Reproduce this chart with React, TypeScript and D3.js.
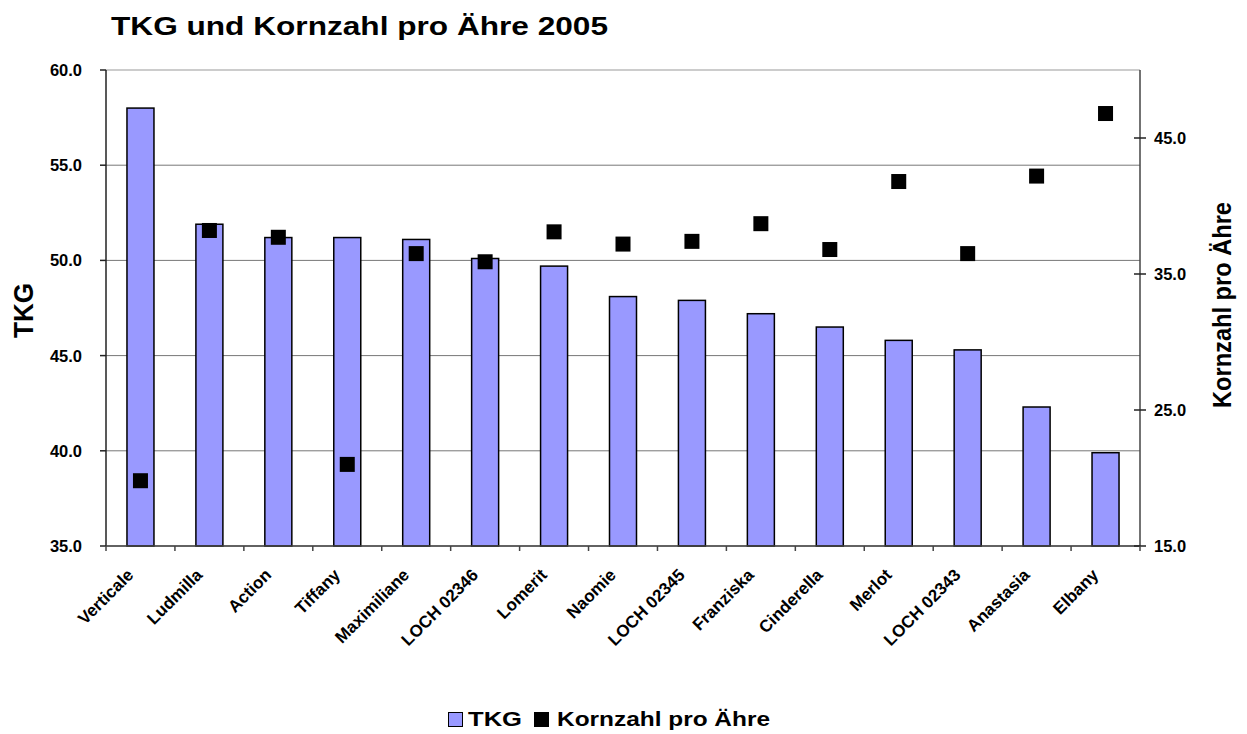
import React from "react";
import * as d3 from "d3";

const categories = ["Verticale","Ludmilla","Action","Tiffany","Maximiliane","LOCH 02346","Lomerit","Naomie","LOCH 02345","Franziska","Cinderella","Merlot","LOCH 02343","Anastasia","Elbany"];
const tkg = [58.0,51.9,51.2,51.2,51.1,50.1,49.7,48.1,47.9,47.2,46.5,45.8,45.3,42.3,39.9];
const kornzahl = [19.8,38.2,37.7,21.0,36.5,35.9,38.1,37.2,37.4,38.7,36.8,41.8,36.5,42.2,46.8];
const leftTicks = [35,40,45,50,55,60];
const rightTicks = [15,25,35,45];

const W = 1247, H = 734;
const L = 106, R = 1140, T = 70, B = 546;
const FONT = "'Liberation Sans', Arial, sans-serif";

export default function App() {
  const xc = d3.scaleBand<string>().domain(categories).range([L, R]);
  const yL = d3.scaleLinear().domain([35, 60]).range([B, T]);
  const yR = d3.scaleLinear().domain([15, 50]).range([B, T]);
  const ms = 15;
  const bw = 27;
  return (
    <svg width={W} height={H} style={{ position: "absolute", left: 0, top: 0, fontFamily: FONT }}>
      <rect x={0} y={0} width={W} height={H} fill="#fff" />
      <text x={111} y={35} fontSize={25.5} fontWeight="bold" textLength={497} lengthAdjust="spacingAndGlyphs">TKG und Kornzahl pro Ähre 2005</text>
      {/* gridlines */}
      {leftTicks.map(t => (
        <line key={"g" + t} x1={L} x2={R} y1={yL(t)} y2={yL(t)} stroke={t === 60 ? "#999" : "#777"} strokeWidth={1} />
      ))}
      {/* bars */}
      {categories.map((c, i) => (
        <rect key={c} x={xc(c)! + xc.bandwidth() / 2 - bw / 2} y={yL(tkg[i])} width={bw} height={B - yL(tkg[i])} fill="#9999FF" stroke="#000" strokeWidth={1.5} />
      ))}
      {/* axes */}
      <line x1={L} x2={L} y1={T} y2={B} stroke="#222" strokeWidth={1.5} />
      <line x1={R} x2={R} y1={T} y2={B} stroke="#444" strokeWidth={1.5} />
      <line x1={L} x2={R} y1={B} y2={B} stroke="#444" strokeWidth={1.5} />
      {leftTicks.map(t => (
        <g key={"lt" + t}>
          <line x1={L - 6} x2={L} y1={yL(t)} y2={yL(t)} stroke="#222" strokeWidth={1.5} />
          <text x={82} y={yL(t)} dy="0.36em" textAnchor="end" fontSize={16.5} fontWeight="bold">{t.toFixed(1)}</text>
        </g>
      ))}
      {rightTicks.map(t => (
        <g key={"rt" + t}>
          <line x1={R - 6} x2={R + 6} y1={yR(t)} y2={yR(t)} stroke="#222" strokeWidth={1.5} />
          <text x={1154} y={yR(t)} dy="0.36em" textAnchor="start" fontSize={16.5} fontWeight="bold">{t.toFixed(1)}</text>
        </g>
      ))}
      {categories.map(c => (
        <line key={"ct" + c} x1={xc(c)!} x2={xc(c)!} y1={B} y2={B + 5} stroke="#444" strokeWidth={1.5} />
      ))}
      <line x1={R} x2={R} y1={B} y2={B + 5} stroke="#444" strokeWidth={1.5} />
      {/* markers */}
      {categories.map((c, i) => (
        <rect key={"m" + c} x={xc(c)! + xc.bandwidth() / 2 - ms / 2} y={yR(kornzahl[i]) - ms / 2} width={ms} height={ms} fill="#000" />
      ))}
      {/* category labels */}
      {categories.map(c => {
        const cx = xc(c)! + xc.bandwidth() / 2 - 6;
        const cy = B + 30;
        return (
          <text key={"cl" + c} transform={`translate(${cx},${cy}) rotate(-45)`} textAnchor="end" fontSize={17} fontWeight="bold">{c}</text>
        );
      })}
      {/* axis titles */}
      <text transform={`translate(23,${310.5}) rotate(-90)`} textAnchor="middle" dy="0.36em" fontSize={27} fontWeight="bold" textLength={55} lengthAdjust="spacingAndGlyphs">TKG</text>
      <text transform={`translate(1222,305) rotate(-90)`} textAnchor="middle" dy="0.36em" fontSize={26} fontWeight="bold" textLength={206} lengthAdjust="spacingAndGlyphs">Kornzahl pro Ähre</text>
      {/* legend */}
      <rect x={448.5} y={712.5} width={14} height={14} fill="#9999FF" stroke="#000" strokeWidth={1} />
      <text x={468} y={726} fontSize={20} fontWeight="bold" textLength={54} lengthAdjust="spacingAndGlyphs">TKG</text>
      <rect x={534} y={712} width={15} height={15} fill="#000" />
      <text x={557} y={726} fontSize={20} fontWeight="bold" textLength={213} lengthAdjust="spacingAndGlyphs">Kornzahl pro Ähre</text>
    </svg>
  );
}
